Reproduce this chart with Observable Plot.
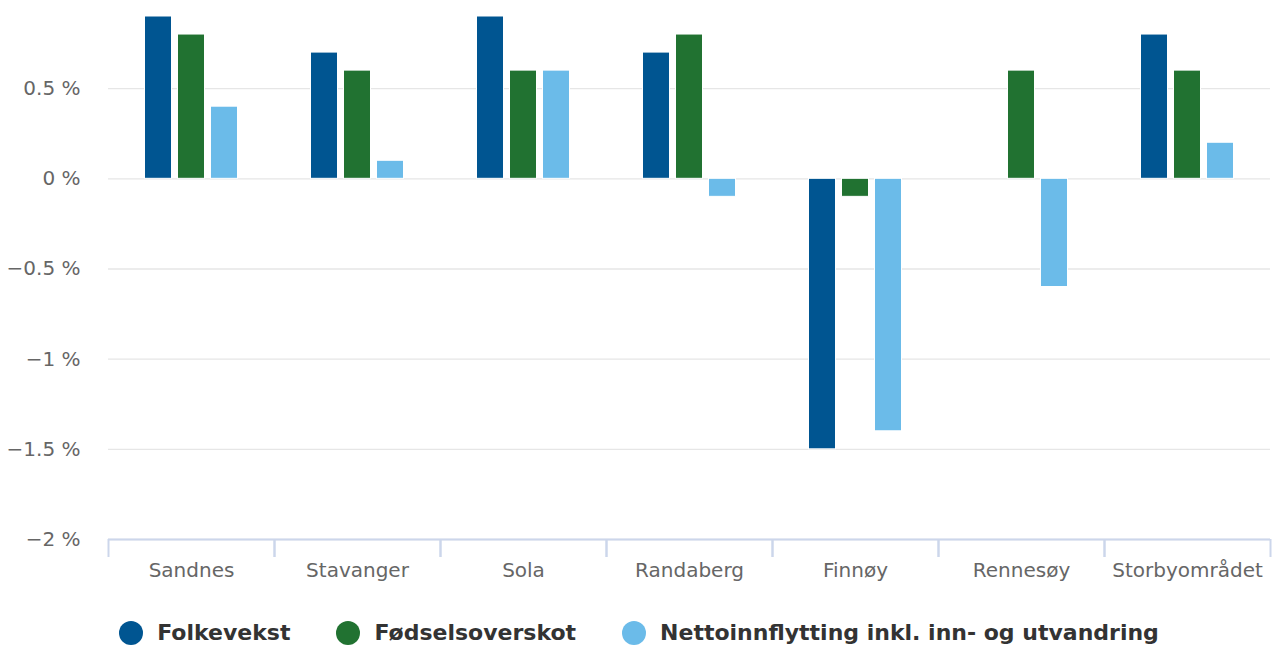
<!DOCTYPE html>
<html>
<head>
<meta charset="utf-8">
<script src="https://cdn.jsdelivr.net/npm/d3@7"></script>
<script src="https://cdn.jsdelivr.net/npm/@observablehq/plot@0.6"></script>
<style>
  html, body { margin: 0; padding: 0; background: #fff; }
  #chart { width: 1278px; }
  .legend { display: flex; justify-content: center; align-items: center; gap: 46px;
    margin-top: 30px; font-family: "DejaVu Sans", sans-serif; font-weight: bold; font-size: 22px; color: #333; }
  .legend .item { display: flex; align-items: center; gap: 14px; }
  .legend .dot { width: 24px; height: 24px; border-radius: 50%; display: inline-block; }
</style>
</head>
<body>
<div id="chart"></div>
<script>
const categories = ["Sandnes", "Stavanger", "Sola", "Randaberg", "Finnøy", "Rennesøy", "Storbyområdet"];
const seriesNames = ["Folkevekst", "Fødselsoverskot", "Nettoinnflytting inkl. inn- og utvandring"];
const folkevekst = [0.9, 0.7, 0.9, 0.7, -1.5, null, 0.8];
const fodselsoverskot = [0.8, 0.6, 0.6, 0.8, -0.1, 0.6, 0.6];
const nettoinnflytting = [0.4, 0.1, 0.6, -0.1, -1.4, -0.6, 0.2];
const colors = ["#005591", "#217231", "#6bbbe9"];
const yTicks = [-2, -1.5, -1, -0.5, 0, 0.5];

const W = 1278, H = 590, mL = 108, mR = 8;
const step = (W - mL - mR) / categories.length;
const barW = 27, gap = 33;

const allSeries = [folkevekst, fodselsoverskot, nettoinnflytting];
const tables = allSeries.map((vals, si) =>
  categories.map((c, i) => ({cat: c, value: vals[i], series: seriesNames[si]})).filter(d => d.value != null)
);

const fmt = d => (d < 0 ? "\u2212" : "") + Math.abs(d) + " %";
const font = "DejaVu Sans, sans-serif";

const plot = Plot.plot({
  width: W, height: H,
  marginLeft: mL, marginRight: mR, marginTop: 16, marginBottom: 51,
  style: {fontFamily: font, fontSize: "20px", color: "#666", background: "#fff"},
  x: {domain: categories, padding: 0, axis: null},
  y: {domain: [-2, 0.9], axis: null},
  marks: [
    Plot.gridY(yTicks, {stroke: "#e6e6e6", strokeOpacity: 1, strokeWidth: 1.3}),
    Plot.axisY(yTicks, {tickSize: 0, tickPadding: 28, tickFormat: fmt, fill: "#666", fontSize: 20, label: null}),
    ...tables.map((t, si) => Plot.barY(t, {
      x: "cat", y: "value", fill: colors[si], stroke: "#fff", strokeWidth: 1,
      insetLeft: (step - barW) / 2, insetRight: (step - barW) / 2, dx: (si - 1) * gap
    })),
    Plot.ruleY([-2], {stroke: "#ccd6eb", strokeWidth: 2}),
    Plot.axisX({tickSize: 18, stroke: "#ccd6eb", strokeWidth: 2, dx: -step / 2, tickFormat: null, label: null}),
    Plot.axisX({tickSize: 18, stroke: "#ccd6eb", strokeWidth: 2, dx: step / 2, tickFormat: null, label: null}),
    Plot.axisX({tickSize: 0, tickPadding: 23, fill: "#666", fontSize: 20, label: null})
  ]
});
document.getElementById("chart").appendChild(plot);

const legend = document.createElement("div");
legend.className = "legend";
seriesNames.forEach((n, i) => {
  const it = document.createElement("div");
  it.className = "item";
  const dot = document.createElement("span");
  dot.className = "dot";
  dot.style.background = colors[i];
  const tx = document.createElement("span");
  tx.textContent = n;
  it.appendChild(dot); it.appendChild(tx);
  legend.appendChild(it);
});
document.getElementById("chart").appendChild(legend);
</script>
</body>
</html>
